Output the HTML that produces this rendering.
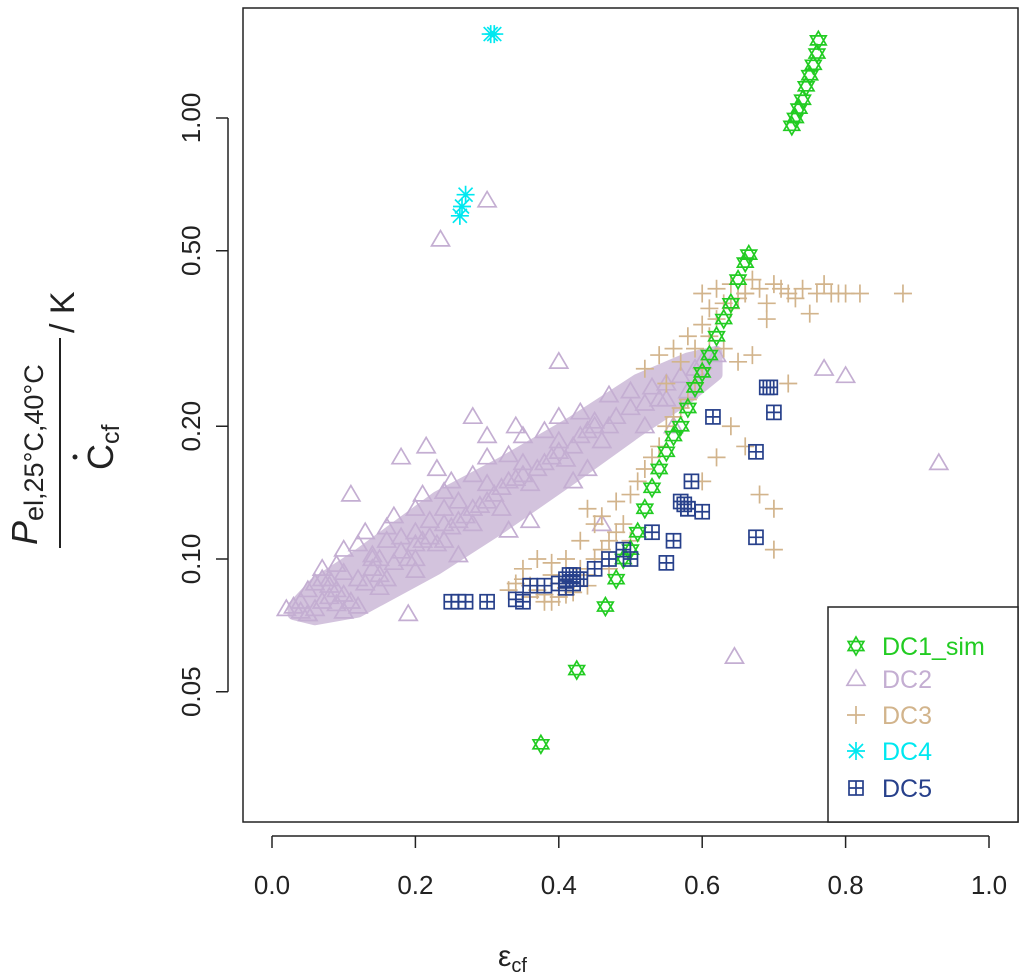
<!DOCTYPE html>
<html><head><meta charset="utf-8"><style>
body{margin:0;background:#fff;}
svg{display:block;font-family:"Liberation Sans",sans-serif;}
</style></head><body>
<svg id="chart" width="1024" height="978" viewBox="0 0 1024 978" xmlns="http://www.w3.org/2000/svg">
<rect x="243" y="8" width="775" height="814" fill="none" stroke="#222" stroke-width="1.5"/>
<g id="xaxis"></g>
<g id="yaxis"></g>
<g id="marks"></g>
<text x="498" y="966" font-size="30" fill="#222">ε<tspan font-size="20" dy="6">cf</tspan></text>
<g transform="translate(60,545) rotate(-90)" fill="#222">
<text x="0" y="-23" font-size="36" font-style="italic">P<tspan font-style="normal" font-size="27" dy="6">el,25°C,40°C</tspan></text>
<line x1="-3" y1="0" x2="207" y2="0" stroke="#222" stroke-width="2"/>
<text x="75" y="53" font-size="36">C<tspan font-size="25" dy="6">cf</tspan></text>
<circle cx="88" cy="15" r="2.5" fill="#222"/>
<text x="212" y="14" font-size="34">/ K</text>
</g>
<g>
<rect x="828" y="607" width="190" height="215" fill="#fff" stroke="#222" stroke-width="1.5"/>
<g id="legend"></g>
</g>
</svg>
<script>
const xTicks=[0,0.2,0.4,0.6,0.8,1.0];
const xTickLabels=["0.0","0.2","0.4","0.6","0.8","1.0"];
const yTicks=[0.05,0.1,0.2,0.5,1.0];
const yTickLabels=["0.05","0.10","0.20","0.50","1.00"];
const seriesNames=["DC1_sim","DC2","DC3","DC4","DC5"];
const dc1x=[0.375,0.425,0.465,0.48,0.49,0.50,0.51,0.52,0.53,0.54,0.55,0.56,0.57,0.58,0.59,0.60,0.61,0.62,0.63,0.64,0.65,0.66,0.665,0.725,0.73,0.735,0.74,0.745,0.75,0.755,0.76,0.762];
const dc1y=[0.038,0.056,0.078,0.09,0.10,0.105,0.115,0.13,0.145,0.16,0.175,0.19,0.20,0.22,0.245,0.265,0.29,0.32,0.35,0.38,0.43,0.47,0.49,0.96,1.0,1.05,1.1,1.18,1.25,1.32,1.4,1.5];
// dense DC2 core envelope
const dc2BandX=[0.03,0.06,0.12,0.23,0.32,0.42,0.51,0.58,0.62];
const dc2BandHi=[0.078,0.088,0.102,0.138,0.165,0.205,0.255,0.285,0.295];
const dc2BandLo=[0.075,0.073,0.076,0.095,0.118,0.153,0.195,0.232,0.262];
const dc2x=[0.03,0.04,0.05,0.06,0.07,0.08,0.05,0.06,0.07,0.08,0.09,0.10,0.11,0.12,0.07,0.09,0.10,0.12,0.13,0.14,0.15,0.16,0.10,0.12,0.14,0.15,0.17,0.18,0.19,0.20,0.13,0.16,0.18,0.20,0.21,0.22,0.23,0.24,0.17,0.20,0.22,0.24,0.25,0.26,0.27,0.28,0.21,0.24,0.26,0.28,0.29,0.30,0.31,0.32,0.25,0.28,0.30,0.32,0.33,0.34,0.35,0.36,0.30,0.33,0.35,0.37,0.38,0.39,0.40,0.41,0.35,0.38,0.40,0.42,0.43,0.44,0.45,0.46,0.40,0.43,0.45,0.47,0.48,0.50,0.52,0.54,0.47,0.50,0.53,0.55,0.57,0.59,0.60,0.62,0.30,0.235,0.77,0.80,0.93,0.645,0.11,0.20,0.19,0.28,0.55,0.46,0.56,0.42,0.14,0.08,0.16,0.24,0.215,0.3,0.34,0.4,0.18,0.23,0.02,0.04,0.09,0.15,0.26,0.36,0.44,0.52,0.58,0.05,0.1,0.2,0.33];
const dc2y=[0.078,0.076,0.075,0.077,0.08,0.082,0.085,0.088,0.09,0.087,0.085,0.083,0.08,0.078,0.095,0.097,0.093,0.09,0.088,0.095,0.092,0.09,0.105,0.108,0.102,0.1,0.098,0.104,0.1,0.1,0.115,0.118,0.112,0.108,0.11,0.112,0.108,0.11,0.125,0.13,0.122,0.12,0.118,0.122,0.125,0.12,0.14,0.142,0.135,0.13,0.132,0.135,0.14,0.13,0.15,0.155,0.148,0.145,0.15,0.152,0.155,0.148,0.17,0.172,0.165,0.16,0.165,0.17,0.175,0.168,0.19,0.195,0.185,0.18,0.19,0.195,0.2,0.185,0.21,0.215,0.205,0.2,0.21,0.22,0.225,0.23,0.235,0.24,0.245,0.25,0.26,0.27,0.28,0.29,0.65,0.53,0.27,0.26,0.165,0.06,0.14,0.115,0.075,0.21,0.23,0.12,0.2,0.15,0.1,0.09,0.11,0.13,0.18,0.19,0.2,0.28,0.17,0.16,0.077,0.08,0.079,0.086,0.102,0.122,0.16,0.2,0.24,0.075,0.076,0.094,0.116];
const dc3x=[0.33,0.34,0.35,0.36,0.37,0.38,0.39,0.40,0.41,0.42,0.43,0.44,0.35,0.37,0.39,0.41,0.43,0.45,0.46,0.47,0.48,0.49,0.50,0.44,0.46,0.48,0.50,0.51,0.52,0.53,0.54,0.55,0.56,0.57,0.58,0.59,0.60,0.52,0.54,0.56,0.58,0.60,0.62,0.64,0.66,0.55,0.57,0.59,0.61,0.63,0.65,0.67,0.60,0.62,0.64,0.66,0.68,0.70,0.72,0.74,0.76,0.78,0.80,0.82,0.88,0.61,0.63,0.65,0.67,0.69,0.71,0.73,0.75,0.77,0.79,0.69,0.70,0.60,0.62,0.64,0.66,0.68,0.70,0.72,0.38,0.40,0.42,0.36,0.39,0.41,0.44,0.47,0.45];
const dc3y=[0.085,0.088,0.09,0.087,0.085,0.083,0.092,0.088,0.086,0.09,0.095,0.092,0.095,0.1,0.098,0.1,0.11,0.1,0.105,0.11,0.115,0.12,0.11,0.13,0.125,0.135,0.14,0.15,0.16,0.17,0.18,0.2,0.21,0.22,0.23,0.25,0.27,0.27,0.29,0.3,0.32,0.34,0.35,0.37,0.4,0.25,0.28,0.3,0.32,0.3,0.28,0.29,0.4,0.41,0.42,0.4,0.41,0.42,0.4,0.41,0.4,0.4,0.4,0.4,0.4,0.37,0.38,0.39,0.43,0.38,0.41,0.39,0.36,0.42,0.4,0.35,0.105,0.15,0.17,0.2,0.18,0.14,0.13,0.25,0.08,0.082,0.084,0.082,0.08,0.083,0.087,0.095,0.12];
const dc4x=[0.305,0.31,0.27,0.265,0.262];
const dc4y=[1.55,1.55,0.67,0.63,0.6];
const dc5x=[0.25,0.26,0.27,0.30,0.34,0.35,0.36,0.38,0.40,0.41,0.42,0.43,0.41,0.45,0.47,0.49,0.50,0.53,0.55,0.56,0.57,0.58,0.585,0.60,0.615,0.675,0.675,0.69,0.695,0.70,0.415,0.425,0.42,0.575,0.58];
const dc5y=[0.08,0.08,0.08,0.08,0.081,0.08,0.087,0.087,0.088,0.09,0.092,0.09,0.086,0.095,0.1,0.105,0.1,0.115,0.098,0.11,0.135,0.13,0.15,0.128,0.21,0.175,0.112,0.245,0.245,0.215,0.092,0.09,0.088,0.133,0.13];

const NS="http://www.w3.org/2000/svg";
const X=v=>272+v*717;
const Y=v=>118-441*Math.log10(v);
function mk(tag,attrs,parent){const e=document.createElementNS(NS,tag);for(const k in attrs)e.setAttribute(k,attrs[k]);parent.appendChild(e);return e;}
const xa=document.getElementById('xaxis');
mk('line',{x1:X(0),x2:X(1),y1:836,y2:836,stroke:'#222','stroke-width':1.5},xa);
xTicks.forEach((t,i)=>{
 const l=mk('line',{x1:X(t),x2:X(t),y1:836,y2:848,stroke:'#222','stroke-width':1.5},xa);
 
 
 const tx=mk('text',{x:X(t),y:894,'text-anchor':'middle','font-size':26,fill:'#222'},xa);tx.textContent=xTickLabels[i];
 
 
});
const ya=document.getElementById('yaxis');
mk('line',{x1:228,x2:228,y1:Y(0.05),y2:Y(1),stroke:'#222','stroke-width':1.5},ya);
yTicks.forEach((t,i)=>{
 const l=mk('line',{x1:216,x2:228,y1:Y(t),y2:Y(t),stroke:'#222','stroke-width':1.5},ya);
 
 
 const tx=mk('text',{x:0,y:0,'text-anchor':'middle','font-size':26,fill:'#222',transform:`translate(200,${Y(t)}) rotate(-90)`},ya);tx.textContent=yTickLabels[i];
 
 
});
const colors=["#22cc22","#c4aed2","#d2b48c","#00e8f0","#27408b"];
function marker(type,cx,cy,parent){
 const g=mk('g',{fill:'none',stroke:colors[type],'stroke-width':1.7},parent);
 const r=9;
 if(type===0){
  mk('polygon',{points:`${cx},${cy-r} ${cx+r*0.87},${cy+r*0.5} ${cx-r*0.87},${cy+r*0.5}`},g);
  mk('polygon',{points:`${cx},${cy+r} ${cx+r*0.87},${cy-r*0.5} ${cx-r*0.87},${cy-r*0.5}`},g);
 }else if(type===1){
  mk('polygon',{points:`${cx},${cy-r} ${cx+r*1.0},${cy+r*0.7} ${cx-r*1.0},${cy+r*0.7}`},g);
 }else if(type===2){
  mk('path',{d:`M${cx-r} ${cy}H${cx+r}M${cx} ${cy-r}V${cy+r}`},g);
 }else if(type===3){
  mk('path',{d:`M${cx-r} ${cy}H${cx+r}M${cx} ${cy-r}V${cy+r}M${cx-7} ${cy-7}L${cx+7} ${cy+7}M${cx-7} ${cy+7}L${cx+7} ${cy-7}`},g);
 }else{
  mk('rect',{x:cx-7,y:cy-7,width:14,height:14},g);
  mk('path',{d:`M${cx-7} ${cy}H${cx+7}M${cx} ${cy-7}V${cy+7}`},g);
 }
 return g;
}
const marks=document.getElementById('marks');
let bp='M'+dc2BandX.map((v,i)=>X(v)+' '+Y(dc2BandHi[i])).join(' L');
for(let i=dc2BandX.length-1;i>=0;i--)bp+=' L'+X(dc2BandX[i])+' '+Y(dc2BandLo[i]);
const band=mk('path',{d:bp+'Z',fill:'#d3c3dd',stroke:'#d3c3dd','stroke-width':12,'stroke-linejoin':'round'},marks);


const sets=[[dc2x,dc2y,1],[dc3x,dc3y,2],[dc1x,dc1y,0],[dc4x,dc4y,3],[dc5x,dc5y,4]];
sets.forEach(([xs,ys,t])=>{
 xs.forEach((v,i)=>{
  const g=marker(t,X(v),Y(ys[i]),marks);
  
  
 });
});
const lg=document.getElementById('legend');
const ly=[646,679,715,751,788];
seriesNames.forEach((n,i)=>{
 const g=marker(i,856,ly[i],lg);
 
 
 const tx=mk('text',{x:882,y:ly[i]+9,'font-size':25,fill:colors[i]},lg);tx.textContent=n;
 
 
});
</script>
</body></html>
